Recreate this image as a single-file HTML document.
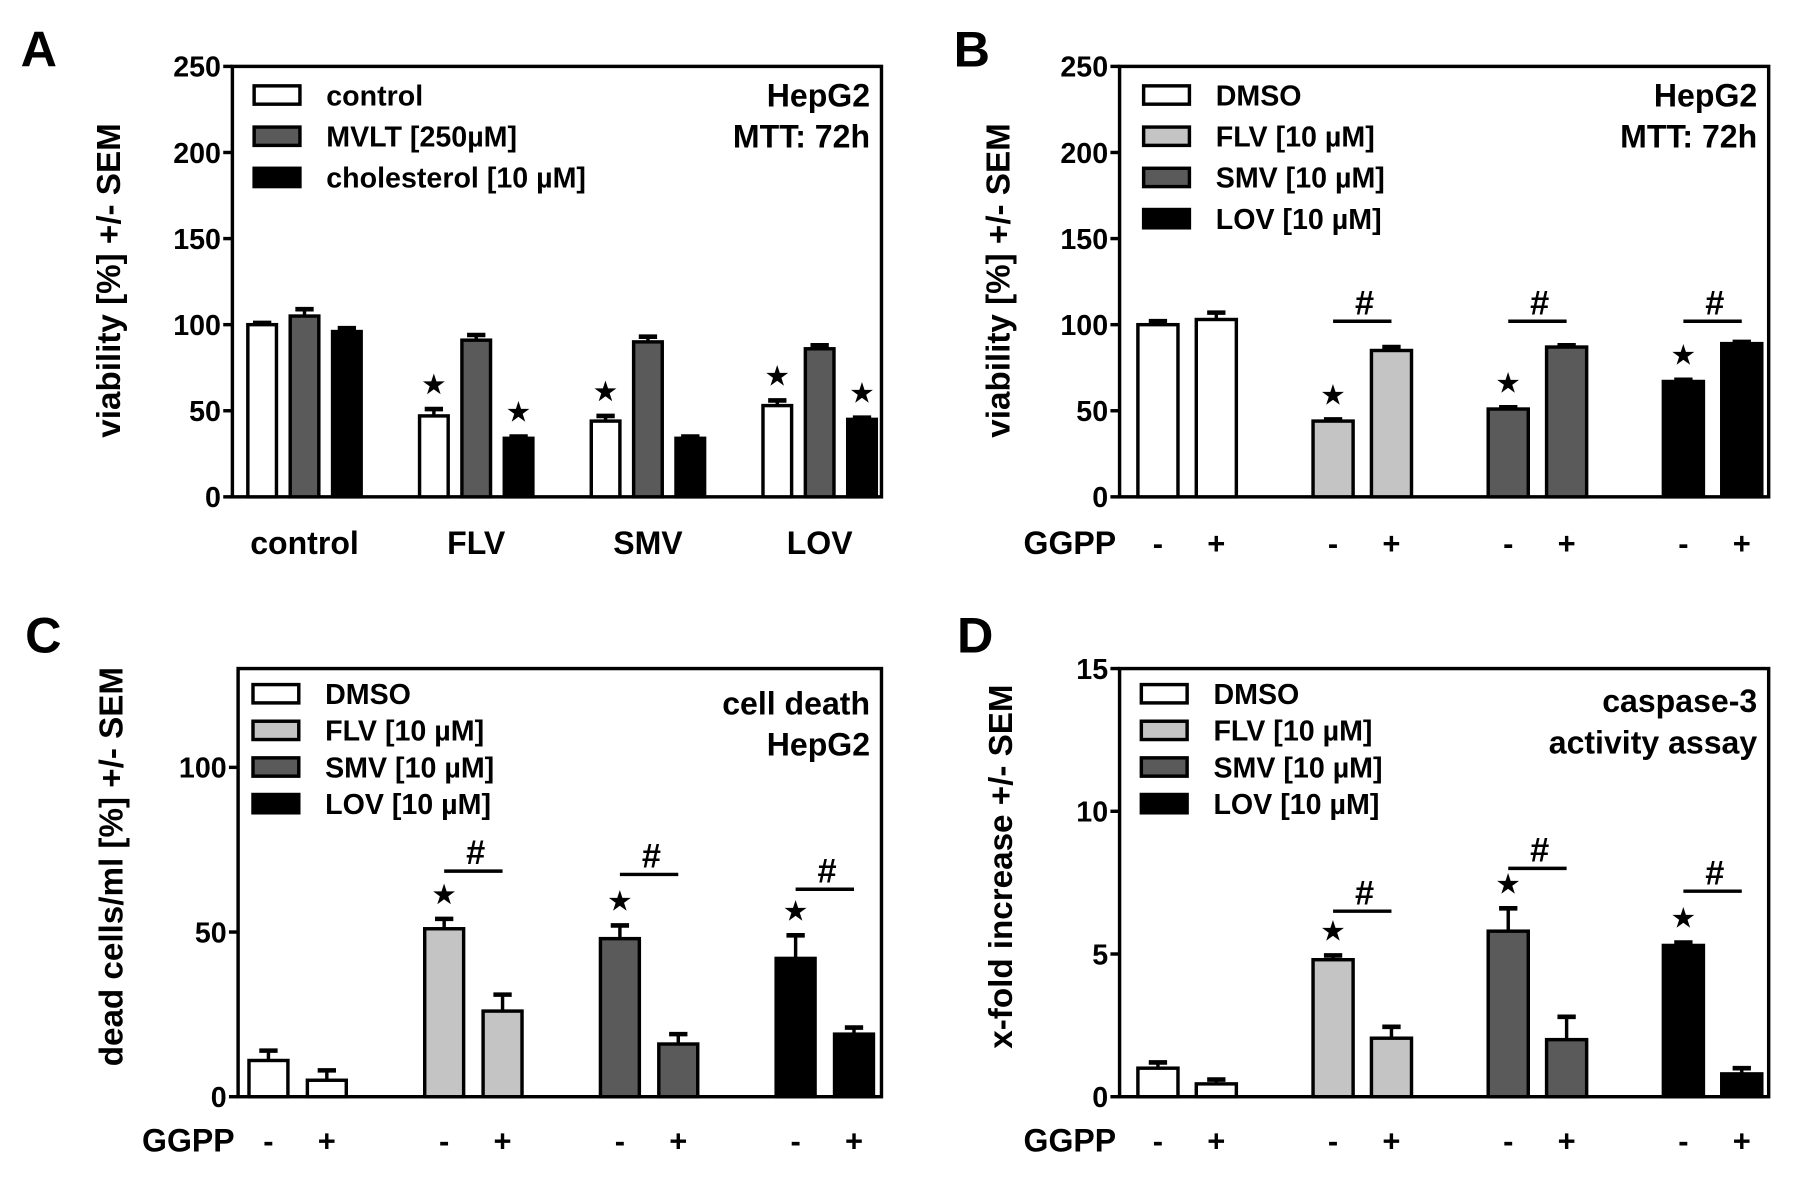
<!DOCTYPE html>
<html><head><meta charset="utf-8"><style>
html,body{margin:0;padding:0;background:#fff;}
svg{display:block;}
text{font-family:"Liberation Sans",Arial,sans-serif;font-weight:bold;fill:#000;}
</style></head><body>
<svg id="fig" width="1795" height="1178" viewBox="0 0 1568 1029" preserveAspectRatio="none" xmlns="http://www.w3.org/2000/svg"></svg>
<script>
// Panel A data
const catsA = ["control","FLV","SMV","LOV"];
const seriesA = ["control","MVLT [250µM]","cholesterol [10 µM]"];
const valsA = [[100,105,96],[47,91,34],[44,90,34],[53,86,45]];
const errA = [[1,4,2],[4,3,1],[3,3,1],[3,2,1]];
const starsA = [[0,0,0],[1,0,1],[1,0,0],[1,0,1]];
const ticksA = [0,50,100,150,200,250];
// Panel B data
const seriesBCD = ["DMSO","FLV [10 µM]","SMV [10 µM]","LOV [10 µM]"];
const valsB = [[100,103],[44,85],[51,87],[67,89]];
const errB = [[2,4],[1,2],[1,1],[1,1]];
const hashB = [null,102,102,102];
const ticksB = [0,50,100,150,200,250];
// Panel C data
const valsC = [[11,5],[51,26],[48,16],[42,19]];
const errC = [[3,3],[3,5],[4,3],[7,2]];
const hashC = [null,68.5,67.5,63];
const ticksC = [0,50,100];
// Panel D data
const valsD = [[1.0,0.45],[4.8,2.05],[5.8,2.0],[5.3,0.8]];
const errD = [[0.2,0.15],[0.15,0.4],[0.8,0.8],[0.1,0.2]];
const hashD = [null,6.5,8.0,7.2];
const ticksD = [0,5,10,15];

const NS="http://www.w3.org/2000/svg";
const svg=document.getElementById('fig');
const COLS=["#ffffff","#c4c4c4","#5a5a5a","#000000"];
const COLSA=["#ffffff","#5a5a5a","#000000"];
function mk(tag,attrs,parent){const e=document.createElementNS(NS,tag);for(const k in attrs)e.setAttribute(k,attrs[k]);(parent||svg).appendChild(e);return e;}
function txt(s,x,y,size,anchor,parent){const t=mk('text',{x:x,y:y,'font-size':size,'text-anchor':anchor||'start'},parent);t.textContent=s;return t;}
function star(x,y,g){const t=txt('★',x,y,22,'middle',g);}

function panel(cfg){
  const g=mk('g',{});
  
  
  const ys=v=>cfg.y0-(v-cfg.min)/(cfg.max-cfg.min)*(cfg.y0-cfg.yTop);
  const fr=mk('rect',{x:cfg.x0,y:cfg.yTop,width:cfg.x1-cfg.x0,height:cfg.y0-cfg.yTop,fill:'none',stroke:'#000','stroke-width':3},g);
  
  cfg.ticks.forEach(t=>{
    const y=ys(t);
    mk('line',{x1:cfg.x0-8,x2:cfg.x0,y1:y,y2:y,stroke:'#000','stroke-width':3},g);
    const l=txt(String(t),cfg.x0-10,y+9,25,'end',g);
    
  });
  const yt=txt(cfg.ytitle,0,0,29,'middle',g);
  yt.setAttribute('transform',`translate(${cfg.ytx},${cfg.yty}) rotate(-90)`);
  
  const L=txt(cfg.letter,cfg.lx,cfg.ly,44,'start',g);
  
  cfg.vals.forEach((grp,gi)=>{
    grp.forEach((v,bi)=>{
      const cx=cfg.gx0+gi*cfg.gstep+(bi-(grp.length-1)/2)*cfg.boff;
      const col=cfg.colorFn(gi,bi);
      const top=ys(v), e=cfg.err[gi][bi];
      const ey=ys(v+e);
      mk('line',{x1:cx,x2:cx,y1:top,y2:ey,stroke:'#000','stroke-width':3},g);
      mk('line',{x1:cx-8,x2:cx+8,y1:ey,y2:ey,stroke:'#000','stroke-width':4},g);
      const r=mk('rect',{x:cx-cfg.bw/2,y:top,width:cfg.bw,height:cfg.y0-top,fill:col,stroke:'#000','stroke-width':3},g);
      
      if(cfg.stars && cfg.stars[gi][bi]) star(cx,ey-14,g);
      if(cfg.signs){const s=txt(bi===0?'-':'+',cx,cfg.signY,27,'middle',g);}
    });
    if(cfg.catLabels){const c=txt(cfg.catLabels[gi],cfg.gx0+gi*cfg.gstep,cfg.signY,28,'middle',g);}
    if(cfg.hash && cfg.hash[gi]!=null){
      const c0=cfg.gx0+gi*cfg.gstep-cfg.boff/2, c1=c0+cfg.boff;
      const hy=ys(cfg.hash[gi]);
      mk('line',{x1:c0,x2:c1,y1:hy,y2:hy,stroke:'#000','stroke-width':3},g);
      const h=txt('#',(c0+c1)/2+2,hy-6,30,'middle',g);
      
    }
  });
  if(cfg.signs){const gg=txt('GGPP',cfg.x0-3,cfg.signY,28,'end',g);}
  cfg.legend.forEach((s,i)=>{
    const y=cfg.legY+i*cfg.legStep;
    const lg=mk('g',{},g);
    
    mk('rect',{x:cfg.legX,y:y-8,width:40,height:16,fill:cfg.legCols[i],stroke:'#000','stroke-width':3},lg);
    txt(s,cfg.legX+63,y+9,25,'start',lg);
  });
  cfg.note.forEach((s,i)=>{const n=txt(s,cfg.x1-10,cfg.noteY+i*36,28,'end',g);});
}

panel({name:'panel-a',letter:'A',lx:18,ly:58,x0:203,x1:770,yTop:58,y0:434,min:0,max:250,ticks:ticksA,
  ytitle:'viability [%] +/- SEM',ytx:105,yty:245,vals:valsA,err:errA,stars:starsA,
  gx0:266,gstep:150,boff:37,bw:25,colorFn:(g,b)=>COLSA[b],catLabels:catsA,signY:484,
  legend:seriesA,legCols:COLSA,legX:222,legY:83,legStep:36,note:['HepG2','MTT: 72h'],noteY:93});
panel({name:'panel-b',letter:'B',lx:833,ly:58,x0:978,x1:1545,yTop:58,y0:434,min:0,max:250,ticks:ticksB,
  ytitle:'viability [%] +/- SEM',ytx:882,yty:245,vals:valsB,err:errB,stars:[[0,0],[1,0],[1,0],[1,0]],hash:hashB,
  gx0:1037,gstep:153,boff:51,bw:35,colorFn:(g,b)=>COLS[g],signs:true,signY:484,
  legend:seriesBCD,legCols:COLS,legX:999,legY:83,legStep:36,note:['HepG2','MTT: 72h'],noteY:93});
panel({name:'panel-c',letter:'C',lx:22,ly:570,x0:208,x1:770,yTop:584,y0:958,min:0,max:130,ticks:ticksC,
  ytitle:'dead cells/ml [%] +/- SEM',ytx:107,yty:757,vals:valsC,err:errC,stars:[[0,0],[1,0],[1,0],[1,0]],hash:hashC,
  gx0:260,gstep:153.5,boff:51,bw:34,colorFn:(g,b)=>COLS[g],signs:true,signY:1006,
  legend:seriesBCD,legCols:COLS,legX:221,legY:606,legStep:32,note:['cell death','HepG2'],noteY:624});
panel({name:'panel-d',letter:'D',lx:836,ly:570,x0:978,x1:1545,yTop:584,y0:958,min:0,max:15,ticks:ticksD,
  ytitle:'x-fold increase +/-  SEM',ytx:884,yty:757,vals:valsD,err:errD,stars:[[0,0],[1,0],[1,0],[1,0]],hash:hashD,
  gx0:1037,gstep:153,boff:51,bw:35,colorFn:(g,b)=>COLS[g],signs:true,signY:1006,
  legend:seriesBCD,legCols:COLS,legX:997,legY:606,legStep:32,note:['caspase-3','activity assay'],noteY:622});
</script>
</body></html>
